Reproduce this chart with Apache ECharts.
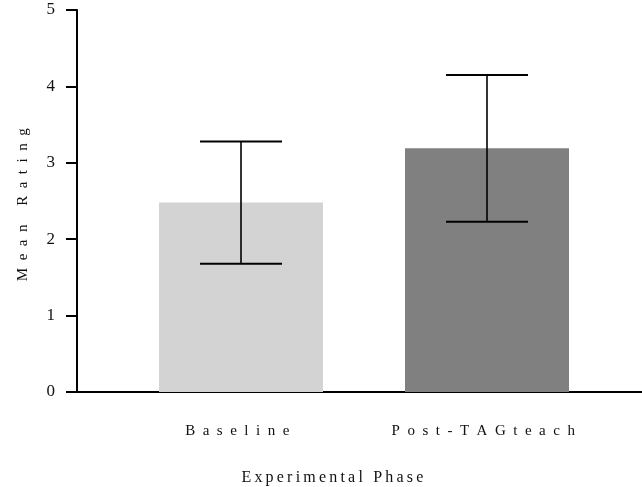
<!DOCTYPE html>
<html>
<head>
<meta charset="utf-8">
<script src="https://cdn.jsdelivr.net/npm/echarts@6/dist/echarts.min.js"></script>
<style>
  html, body { margin: 0; padding: 0; background: #fff; }
  #chart { width: 642px; height: 487px; }
</style>
</head>
<body>
<div id="chart"></div>
<script>
// Mean rating per experimental phase, with error bar half-widths
const categories = ['Baseline', 'Post-TAGteach'];
const means = [2.48, 3.19];
const errors = [0.80, 0.96];
const barColors = ['#d3d3d3', '#808080'];
const yTicks = [0, 1, 2, 3, 4, 5];

const FONT = '"Liberation Serif", "Times New Roman", serif';
// letter-spaced text: a spacing character after every glyph (trailing one included)
const spaced = (s, gap) => s.split('').join(gap) + gap;
const EN = '\u2002';
const THIN = '\u2009';

const chart = echarts.init(document.getElementById('chart'), null, { renderer: 'canvas' });

chart.setOption({
  animation: false,
  backgroundColor: '#fff',
  title: {
    text: spaced('Experimental Phase', THIN),
    left: 329,
    top: 465,
    textAlign: 'center',
    textStyle: { fontFamily: FONT, fontSize: 16, fontWeight: 'normal', color: '#111' }
  },
  grid: [
    { left: 118, width: 492, top: 10, bottom: 95 },
    { left: 77, right: 0, top: 10, bottom: 95 }
  ],
  xAxis: [
    {
      type: 'category', gridIndex: 0,
      data: categories,
      axisLine: { show: false },
      axisTick: { show: false },
      axisLabel: {
        interval: 0,
        hideOverlap: false,
        margin: 32,
        fontFamily: FONT, fontSize: 15, color: '#111',
        formatter: v => spaced(v, EN)
      }
    },
    {
      type: 'value', gridIndex: 1, min: 0, max: 1,
      axisLine: { show: true, lineStyle: { color: '#000', width: 2 } },
      axisTick: { show: false },
      axisLabel: { show: false },
      splitLine: { show: false }
    }
  ],
  yAxis: [
    {
      type: 'value', gridIndex: 0,
      min: yTicks[0], max: yTicks[yTicks.length - 1], interval: 1,
      offset: 41,
      name: spaced('Mean Rating', EN),
      nameLocation: 'middle',
      nameGap: 46,
      nameRotate: 90,
      nameTextStyle: { fontFamily: FONT, fontSize: 15, color: '#111' },
      axisLine: { show: true, lineStyle: { color: '#000', width: 2 } },
      axisTick: { show: true, length: 11, lineStyle: { color: '#000', width: 2 } },
      axisLabel: { margin: 22, fontFamily: FONT, fontSize: 17, color: '#111' },
      splitLine: { show: false }
    },
    {
      type: 'value', gridIndex: 1, min: 0, max: 5, show: false
    }
  ],
  series: [
    {
      type: 'bar',
      xAxisIndex: 0, yAxisIndex: 0,
      barWidth: 164,
      data: means.map((v, i) => ({ value: v, itemStyle: { color: barColors[i] } }))
    },
    {
      type: 'custom',
      xAxisIndex: 0, yAxisIndex: 0,
      z: 5,
      data: means.map((m, i) => [i, m - errors[i], m + errors[i]]),
      renderItem: function (params, api) {
        const lo = api.coord([api.value(0), api.value(1)]);
        const hi = api.coord([api.value(0), api.value(2)]);
        const half = api.size([1, 0])[0] * 0.1667;
        const style = { stroke: '#000', lineWidth: 2 };
        return {
          type: 'group',
          children: [
            { type: 'line', shape: { x1: hi[0], y1: hi[1], x2: lo[0], y2: lo[1] }, style: { stroke: '#000', lineWidth: 1.6 } },
            { type: 'line', shape: { x1: hi[0] - half, y1: hi[1], x2: hi[0] + half, y2: hi[1] }, style: style },
            { type: 'line', shape: { x1: lo[0] - half, y1: lo[1], x2: lo[0] + half, y2: lo[1] }, style: style }
          ]
        };
      }
    }
  ]
});
</script>
</body>
</html>
